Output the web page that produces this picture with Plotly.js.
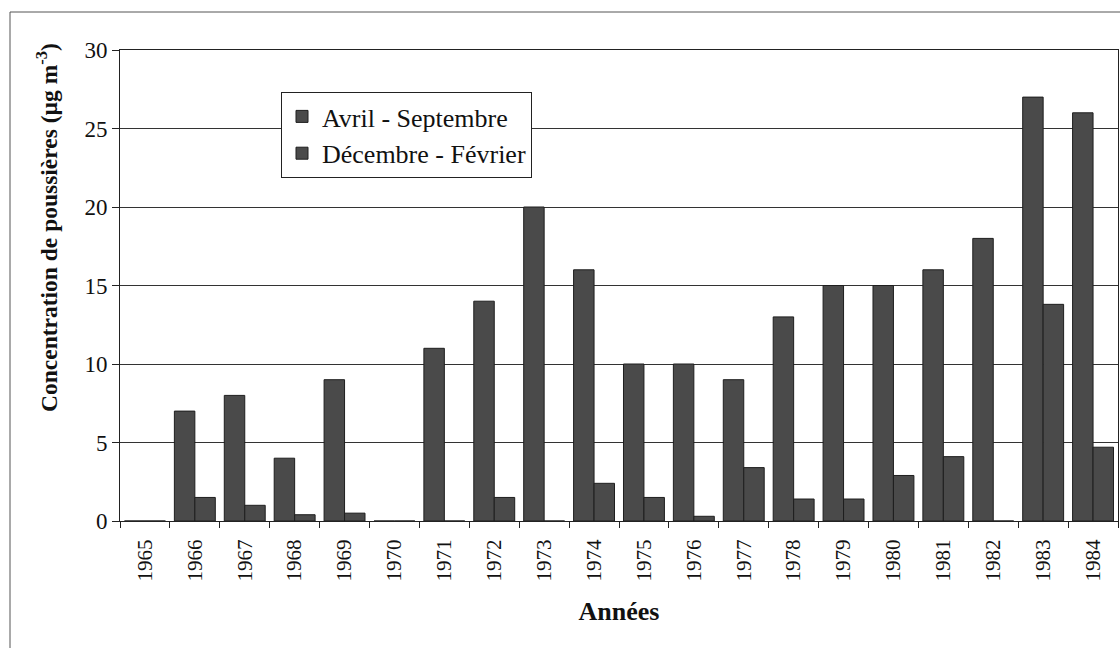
<!DOCTYPE html>
<html>
<head>
<meta charset="utf-8">
<script src="https://cdn.plot.ly/plotly-3.0.1.min.js"></script>
<style>html,body{margin:0;padding:0;background:#fff;}#chart{width:1120px;height:648px;}</style>
</head>
<body>
<div id="chart"></div>
<script>
const years = ["1965","1966","1967","1968","1969","1970","1971","1972","1973","1974","1975","1976","1977","1978","1979","1980","1981","1982","1983","1984"];
const avrilSeptembre = [0, 7, 8, 4, 9, 0, 11, 14, 20, 16, 10, 10, 9, 13, 15, 15, 16, 18, 27, 26];
const decembreFevrier = [0, 1.5, 1.0, 0.4, 0.5, 0, 0, 1.5, 0, 2.4, 1.5, 0.3, 3.4, 1.4, 1.4, 2.9, 4.1, 0, 13.8, 4.7];
const seriesNames = ["Avril - Septembre", "Décembre - Février"];

const barColor = "#4a4a4a";
const serif = "Liberation Serif";

const traces = [
  {type: "bar", name: seriesNames[0], x: years, y: avrilSeptembre,
   marker: {color: barColor, line: {color: "#1e1e1e", width: 1}}},
  {type: "bar", name: seriesNames[1], x: years, y: decembreFevrier,
   marker: {color: barColor, line: {color: "#1e1e1e", width: 1}}}
];

const L = 120, R = 2, T = 50, B = 127;
const W = 1120 - L - R, H = 648 - T - B;

const layout = {
  width: 1120, height: 648,
  margin: {l: L, r: R, t: T, b: B, pad: 0},
  paper_bgcolor: "#fff", plot_bgcolor: "#fff",
  barmode: "group", bargap: 0.18, bargroupgap: 0,
  font: {family: serif, color: "#111", size: 20},
  showlegend: true,
  legend: {x: (281 - L) / W, y: 1 - (92 - T) / H, xanchor: "left", yanchor: "top",
           bgcolor: "#fff", bordercolor: "#222", borderwidth: 1,
           font: {family: serif, size: 26, color: "#111"}, tracegroupgap: 0, itemwidth: 30},
  xaxis: {type: "category", tickson: "boundaries", ticks: "outside", ticklen: 6, tickcolor: "#222",
          tickangle: -90, ticklabelstandoff: 9, tickfont: {family: serif, size: 21, color: "#111"},
          showline: true, linecolor: "#222", linewidth: 1, mirror: true, showgrid: false,
          title: {text: "<b>Années</b>", font: {family: serif, size: 26, color: "#111"}, standoff: 21}},
  yaxis: {range: [0, 30], dtick: 5, ticks: "outside", ticklen: 7, tickcolor: "#222",
          tickfont: {family: serif, size: 23, color: "#111"},
          showline: true, linecolor: "#222", linewidth: 1, mirror: true,
          showgrid: true, gridcolor: "#333", gridwidth: 1, zeroline: false},
  annotations: [{
    text: "<b>Concentration de poussières (µg m<sup>-3</sup>)</b>",
    xref: "paper", yref: "paper", x: (47 - L) / W, y: 1 - (228 - T) / H,
    xanchor: "center", yanchor: "middle", textangle: -90, showarrow: false,
    font: {family: serif, size: 23.5, color: "#111"}
  }],
  shapes: [
    {type: "line", xref: "paper", yref: "paper", x0: (10 - L) / W, x1: (10 - L) / W,
     y0: 1 + (T - 12) / H, y1: -(B + 10) / H, line: {color: "#555", width: 1}},
    {type: "line", xref: "paper", yref: "paper", x0: (10 - L) / W, x1: 1.01,
     y0: 1 + (T - 12) / H, y1: 1 + (T - 12) / H, line: {color: "#555", width: 1}}
  ]
};

Plotly.newPlot("chart", traces, layout, {displayModeBar: false, staticPlot: true});
</script>
</body>
</html>
